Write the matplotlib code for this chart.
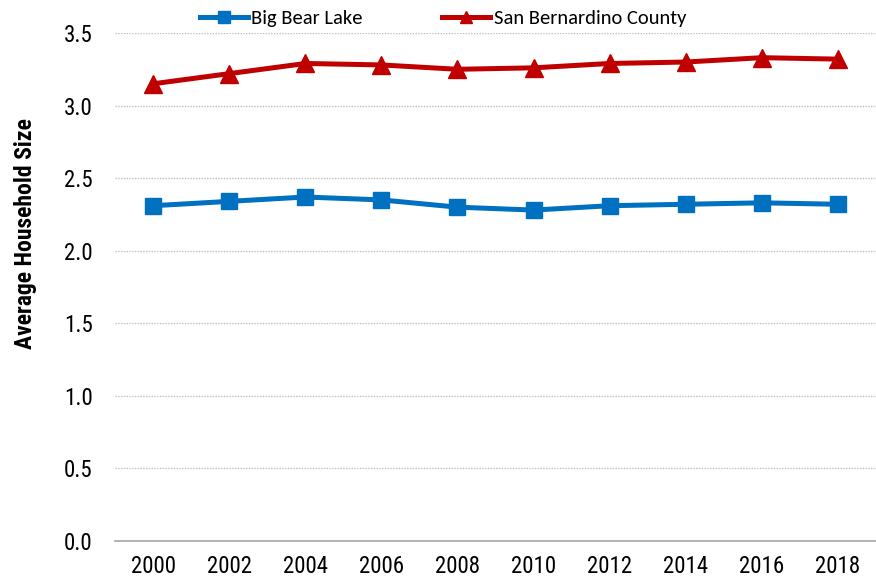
import matplotlib
matplotlib.use("Agg")
import matplotlib.pyplot as plt
from matplotlib.ticker import MultipleLocator, FormatStrFormatter

years = ["2000", "2002", "2004", "2006", "2008", "2010", "2012", "2014", "2016", "2018"]
big_bear = [2.31, 2.34, 2.37, 2.35, 2.30, 2.28, 2.31, 2.32, 2.33, 2.32]
san_bern = [3.15, 3.22, 3.29, 3.28, 3.25, 3.26, 3.29, 3.30, 3.33, 3.32]

narrow = ["Roboto Condensed", "Liberation Sans"]

fig = plt.figure(figsize=(8.76, 5.82), dpi=100)
ax = fig.add_axes([115/876, 1 - 541/582, 1 - 115/876, (541 - 33)/582])

x = list(range(len(years)))
ax.plot(x, big_bear, color="#0070C0", lw=3.6, marker="s", markersize=12,
        label="Big Bear Lake", solid_joinstyle="round", zorder=3)
ax.plot(x, san_bern, color="#C00000", lw=3.6, marker="^", markersize=13,
        label="San Bernardino County", solid_joinstyle="round", zorder=3)

ax.set_xlim(-0.5, len(years) - 0.5)
ax.set_ylim(0, 3.5)
ax.set_xticks(x)
ax.set_xticklabels(years)
ax.yaxis.set_major_locator(MultipleLocator(0.5))
ax.yaxis.set_major_formatter(FormatStrFormatter("%.1f"))

for s in ["left", "right", "top"]:
    ax.spines[s].set_visible(False)
ax.spines["bottom"].set_color("#A6A6A6")
ax.spines["bottom"].set_linewidth(1.2)
ax.tick_params(axis="both", length=0, labelsize=16.5, colors="black")
ax.tick_params(axis="x", pad=10)
ax.tick_params(axis="y", pad=16)
for lbl in ax.get_xticklabels() + ax.get_yticklabels():
    lbl.set_fontfamily(narrow)

ax.yaxis.grid(True, color="#BFBFBF", linestyle=(0, (1, 1)), linewidth=1.0)
ax.set_axisbelow(True)
ax.set_ylabel("Average Household Size", fontsize=17, fontweight="bold",
              fontfamily=narrow)
ax.yaxis.set_label_coords(-(115 - 37) / 761, (541 - 234) / 508)

leg = fig.legend(loc="center", bbox_to_anchor=(443/876, 1 - 18/582), ncol=2,
                 frameon=False, prop={"family": "Carlito", "size": 14.8},
                 handlelength=2.35, handletextpad=0.15, columnspacing=3.85,
                 markerscale=0.7)

fig.savefig("out.png", dpi=100)
